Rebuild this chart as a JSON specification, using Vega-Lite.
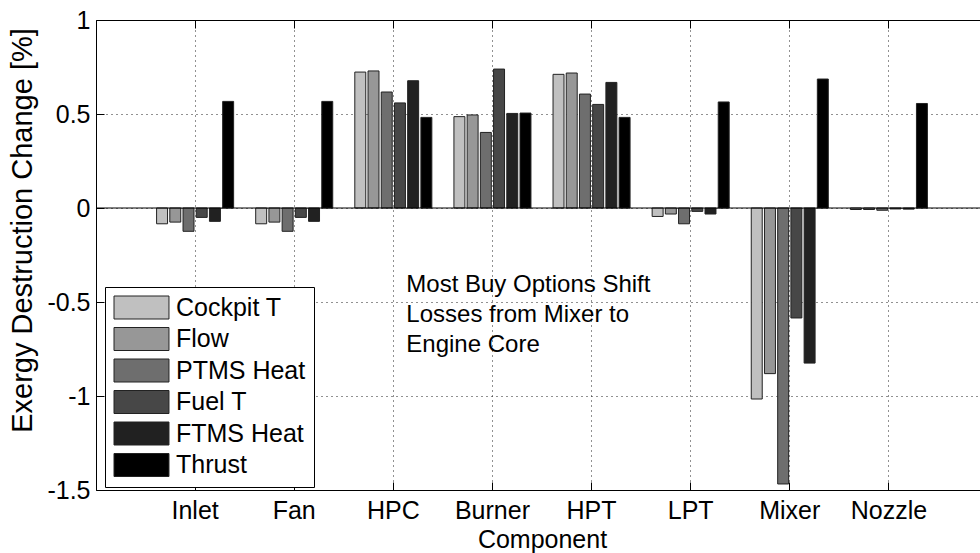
{
  "$schema": "https://vega.github.io/schema/vega-lite/v6.json",
  "autosize": {"type": "none"},
  "padding": {"left": 96, "top": 20, "right": 0, "bottom": 63},
  "width": 884,
  "height": 470,
  "background": "white",
  "config": {
    "font": "Liberation Sans",
    "view": {"stroke": null},
    "axis": {
      "labelColor": "black",
      "titleColor": "black",
      "titleFontWeight": "normal",
      "labelFontSize": 25,
      "titleFontSize": 25,
      "domainColor": "black",
      "domainWidth": 1,
      "tickColor": "black",
      "tickWidth": 1,
      "tickSize": -8,
      "gridColor": "#222",
      "gridDash": [1, 4],
      "gridWidth": 1,
      "gridOpacity": 1
    },
    "legend": {
      "labelFontSize": 25,
      "labelColor": "black"
    }
  },
  "data": {
    "values": [
      {"c": "Inlet", "s": "Cockpit T", "v": -0.084},
      {"c": "Inlet", "s": "Flow", "v": -0.075},
      {"c": "Inlet", "s": "PTMS Heat", "v": -0.124},
      {"c": "Inlet", "s": "Fuel T", "v": -0.05},
      {"c": "Inlet", "s": "FTMS Heat", "v": -0.071},
      {"c": "Inlet", "s": "Thrust", "v": 0.567},
      {"c": "Fan", "s": "Cockpit T", "v": -0.084},
      {"c": "Fan", "s": "Flow", "v": -0.075},
      {"c": "Fan", "s": "PTMS Heat", "v": -0.124},
      {"c": "Fan", "s": "Fuel T", "v": -0.05},
      {"c": "Fan", "s": "FTMS Heat", "v": -0.071},
      {"c": "Fan", "s": "Thrust", "v": 0.567},
      {"c": "HPC", "s": "Cockpit T", "v": 0.723},
      {"c": "HPC", "s": "Flow", "v": 0.729},
      {"c": "HPC", "s": "PTMS Heat", "v": 0.617},
      {"c": "HPC", "s": "Fuel T", "v": 0.559},
      {"c": "HPC", "s": "FTMS Heat", "v": 0.677},
      {"c": "HPC", "s": "Thrust", "v": 0.482},
      {"c": "Burner", "s": "Cockpit T", "v": 0.486},
      {"c": "Burner", "s": "Flow", "v": 0.495},
      {"c": "Burner", "s": "PTMS Heat", "v": 0.402},
      {"c": "Burner", "s": "Fuel T", "v": 0.739},
      {"c": "Burner", "s": "FTMS Heat", "v": 0.503},
      {"c": "Burner", "s": "Thrust", "v": 0.505},
      {"c": "HPT", "s": "Cockpit T", "v": 0.711},
      {"c": "HPT", "s": "Flow", "v": 0.718},
      {"c": "HPT", "s": "PTMS Heat", "v": 0.606},
      {"c": "HPT", "s": "Fuel T", "v": 0.551},
      {"c": "HPT", "s": "FTMS Heat", "v": 0.668},
      {"c": "HPT", "s": "Thrust", "v": 0.482},
      {"c": "LPT", "s": "Cockpit T", "v": -0.045},
      {"c": "LPT", "s": "Flow", "v": -0.032},
      {"c": "LPT", "s": "PTMS Heat", "v": -0.084},
      {"c": "LPT", "s": "Fuel T", "v": -0.018},
      {"c": "LPT", "s": "FTMS Heat", "v": -0.032},
      {"c": "LPT", "s": "Thrust", "v": 0.564},
      {"c": "Mixer", "s": "Cockpit T", "v": -1.016},
      {"c": "Mixer", "s": "Flow", "v": -0.881},
      {"c": "Mixer", "s": "PTMS Heat", "v": -1.468},
      {"c": "Mixer", "s": "Fuel T", "v": -0.585},
      {"c": "Mixer", "s": "FTMS Heat", "v": -0.825},
      {"c": "Mixer", "s": "Thrust", "v": 0.686},
      {"c": "Nozzle", "s": "Cockpit T", "v": -0.008},
      {"c": "Nozzle", "s": "Flow", "v": -0.008},
      {"c": "Nozzle", "s": "PTMS Heat", "v": -0.012},
      {"c": "Nozzle", "s": "Fuel T", "v": -0.005},
      {"c": "Nozzle", "s": "FTMS Heat", "v": -0.006},
      {"c": "Nozzle", "s": "Thrust", "v": 0.556}
    ]
  },
  "layer": [
    {
      "mark": {"type": "bar", "stroke": "#222", "strokeWidth": 1, "opacity": 1},
      "encoding": {
        "x": {
          "field": "c",
          "type": "nominal",
          "sort": null,
          "scale": {
            "domain": ["Inlet", "Fan", "HPC", "Burner", "HPT", "LPT", "Mixer", "Nozzle"],
            "range": [0, 892],
            "paddingInner": 0,
            "paddingOuter": 0.5
          },
          "axis": {
            "orient": "bottom",
            "title": "Component",
            "labelAngle": 0,
            "labelPadding": 16,
            "labelBaseline": "top",
            "grid": true,
            "titleBaseline": "alphabetic",
            "titleY": 57
          }
        },
        "xOffset": {
          "field": "s",
          "type": "nominal",
          "scale": {
            "domain": ["Cockpit T", "Flow", "PTMS Heat", "Fuel T", "FTMS Heat", "Thrust"],
            "paddingInner": 0.17,
            "paddingOuter": 0.835
          }
        },
        "y": {
          "field": "v",
          "type": "quantitative",
          "scale": {"domain": [-1.5, 1], "nice": false, "zero": false},
          "axis": {
            "title": "Exergy Destruction Change [%]",
            "titleFontSize": 29,
            "titleAngle": 270,
            "titleBaseline": "alphabetic",
            "titleX": -65,
            "titleY": 210,
            "values": [-1.5, -1, -0.5, 0, 0.5, 1],
            "labelExpr": "toString(datum.value)",
            "labelPadding": 14,
            "grid": true
          }
        },
        "color": {
          "field": "s",
          "type": "nominal",
          "scale": {
            "domain": ["Cockpit T", "Flow", "PTMS Heat", "Fuel T", "FTMS Heat", "Thrust"],
            "range": ["#c0c0c0", "#979797", "#6e6e6e", "#474747", "#212121", "#000000"]
          },
          "legend": {
            "title": null,
            "orient": "none",
            "legendX": 9,
            "legendY": 267,
            "symbolType": "M-1,-1H3.78V1H-1Z",
            "symbolSize": 529,
            "symbolStrokeColor": "#222",
            "symbolStrokeWidth": 1,
            "symbolOpacity": 1,
            "labelOffset": 38,
            "rowPadding": 4.5,
            "padding": 8,
            "strokeColor": "black",
            "fillColor": "white",
            "cornerRadius": 0
          }
        }
      }
    },
    {
      "data": {"values": [{}]},
      "mark": {"type": "rule", "color": "black", "strokeWidth": 1},
      "encoding": {"y": {"datum": 0}}
    },
    {
      "data": {"values": [{}]},
      "mark": {
        "type": "text",
        "text": ["Most Buy Options Shift", "Losses from Mixer to", "Engine Core"],
        "align": "left",
        "baseline": "middle",
        "lineHeight": 30,
        "fontSize": 24,
        "dx": 13,
        "color": "black"
      },
      "encoding": {
        "x": {
          "datum": "HPC",
          "type": "nominal",
          "axis": {
            "orient": "top",
            "labels": false,
            "title": null,
            "grid": false,
            "domain": true,
            "ticks": true
          }
        },
        "y": {"datum": -0.408, "type": "quantitative"}
      }
    }
  ],
  "resolve": {"axis": {"x": "independent"}}
}
